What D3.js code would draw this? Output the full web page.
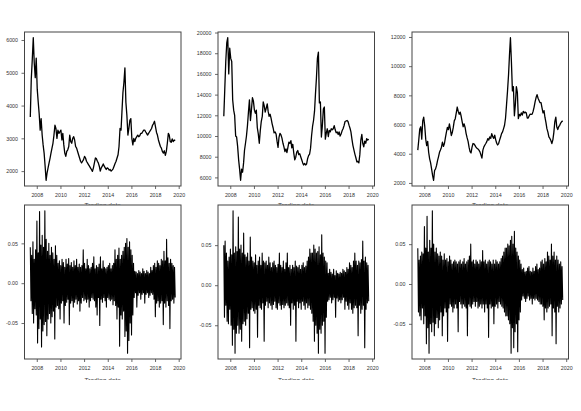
<!DOCTYPE html>
<html>
<head>
<meta charset="utf-8">
<script src="https://cdn.jsdelivr.net/npm/d3@7"></script>
<style>
  body { margin: 0; background: #fff; }
  svg { display: block; font-family: "Liberation Sans", Arial, sans-serif; }
</style>
</head>
<body>
<svg width="581" height="411"></svg>
<script>
// monthly closes, first month June 2007
const firstMonth = new Date(2007, 5, 15);

const price1 = [
  3650, 4800, 5400, 6070, 5300, 4850, 5450, 4500, 4100, 3750,
  3250, 3600, 3100, 2800, 2550, 2150, 1720, 1950, 2100, 2250,
  2400, 2550, 2700, 2850, 3100, 3400, 3300, 3000, 3250, 3150,
  3200, 3250, 2950, 3150, 2800, 2550, 2450, 2600, 2650, 2750,
  3100, 2900, 2850, 3000, 3050, 2950, 2750, 2700, 2600, 2500,
  2400, 2300, 2250, 2300, 2350, 2450, 2400, 2300, 2250, 2200,
  2150, 2100, 2050, 1990, 2100, 2250, 2400, 2380, 2300, 2250,
  2150, 2000, 2100, 2150, 2220, 2150, 2100, 2050, 2100, 2080,
  2030, 2050, 2000, 2030, 2070, 2150, 2230, 2300, 2400, 2500,
  2750, 3300, 3250, 3800, 4400, 4700, 5150, 4100, 3700, 3100,
  3300, 3550, 3600, 3000, 2800, 3000, 2900, 3000, 3050, 3100,
  3050, 3080, 3150, 3150, 3200, 3250, 3250, 3200, 3150, 3100,
  3150, 3200, 3250, 3300, 3400, 3450, 3520, 3350, 3180, 3100,
  2950, 2850, 2750, 2700, 2600, 2550, 2620, 2480, 2600, 2850,
  3150, 3100, 2900, 2880, 2980, 2900, 2950, 2930
];

const price2 = [
  11900, 14500, 17200, 19000, 19500, 16000, 18500, 17500, 17200, 13500,
  12500, 12000, 10000, 9900, 9000, 7700, 6800, 5720, 6800, 6500,
  7400, 8600, 9300, 10000, 11000, 12300, 13500, 11500, 12500, 13700,
  13400, 12500, 12200, 12500, 10800, 10200, 9300, 10500, 11400, 11900,
  13300, 12900, 12300, 12700, 13100, 12400, 11900, 12100, 11700, 11200,
  10800, 10300, 10400, 10200, 9500, 8900, 9900, 10250, 10100, 9800,
  9300, 8950, 8500, 8750, 8400, 8900, 9400, 9300, 9550, 8850,
  9200, 8350, 7700, 7950, 8450, 8600, 8200, 8300, 8000, 7700,
  7400, 7200, 7350, 7200, 7300, 7800, 8100, 8250, 8800, 10000,
  10900, 11500, 12400, 14000, 15600, 17500, 18100, 13200, 13300, 9900,
  11000, 12600, 12800, 9700, 10300, 10700, 9950, 10550, 10400, 10700,
  10600, 10700, 11000, 10600, 10300, 10400, 10150, 10400, 10000, 10200,
  10500, 10700, 11000, 11400, 11450, 11500, 11400, 11050, 10750, 10400,
  9700, 9100, 8650, 8250, 7900, 7500, 7550, 7400, 8200, 9600,
  10150, 9300, 8950, 9500, 9300, 9750, 9600, 9700
];

const price3 = [
  4250, 4940, 5700, 5850, 5000, 6250, 6500, 5900, 5000, 4550,
  4850, 4100, 3650, 3380, 2950, 2500, 2180, 2850, 2960, 3200,
  3550, 3790, 4100, 4250, 4450, 4800, 4500, 4700, 5100, 5480,
  5800, 5650, 6050, 5700, 5250, 5450, 5800, 6250, 6400, 6800,
  7200, 6900, 6700, 6850, 6550, 6200, 5850, 6050, 5800, 5400,
  5100, 4850, 4450, 4150, 4050, 4450, 4700, 4680, 4570, 4450,
  4380, 4330, 4250, 4130, 3920, 3700, 4250, 4470, 4600, 4700,
  4830, 5030, 4940, 5150, 5050, 5380, 5170, 5050, 5270, 4950,
  4720, 4600, 4700, 4930, 5150, 5380, 5500, 5720, 5950, 6450,
  7350, 8300, 9400, 10700, 11950, 10300, 8300, 8600, 6600, 7400,
  8600, 8200, 6400, 6700, 6600, 6800, 6650, 6900, 6800, 6850,
  6800, 6450, 6450, 6600, 6720, 6700, 6720, 6900, 7200, 7550,
  7850, 8050, 7800, 7650, 7500, 7500, 7150, 6800, 6950, 6500,
  6150, 5720, 5480, 5150, 5050, 4900, 4700, 4950, 5450, 6200,
  6500, 5850, 5650, 5850, 5950, 6100, 6200, 6250
];

// returns, evenly spaced over the same period
const ret1 = [
  0.045, -0.022, 0.035, -0.038, 0.052, -0.05, 0.03, -0.032, 0.042, -0.04,
  0.078, -0.075, 0.038, -0.057, 0.09, -0.045, 0.048, -0.08, 0.06, -0.06,
  0.045, -0.052, 0.091, -0.048, 0.055, -0.066, 0.04, -0.045, 0.05, -0.038,
  0.035, -0.05, 0.045, -0.042, 0.038, -0.035,
  0.03, -0.07, 0.047, -0.03, 0.035, -0.028, 0.025, -0.032, 0.028, -0.045,
  0.022, -0.025, 0.03, -0.022, 0.026, -0.05, 0.02, -0.028, 0.03, -0.024,
  0.024, -0.02, 0.031, -0.052, 0.022, -0.025, 0.026, -0.022, 0.02, -0.03,
  0.028, -0.024, 0.022, -0.02, 0.03, -0.026, 0.02, -0.022, 0.024, -0.035,
  0.02, -0.025, 0.022, -0.018, 0.042, -0.022, 0.025, -0.02, 0.018, -0.024,
  0.03, -0.02, 0.022, -0.03, 0.018, -0.022, 0.02, -0.018, 0.025, -0.02,
  0.033, -0.022, 0.018, -0.03, 0.022, -0.04, 0.02, -0.018, 0.024, -0.053,
  0.033, -0.02, 0.018, -0.024, 0.028, -0.018, 0.02, -0.022, 0.018, -0.03,
  0.02, -0.018, 0.022, -0.02, 0.025, -0.022, 0.018, -0.02, 0.022, -0.027,
  0.025, -0.022, 0.042, -0.028, 0.03, -0.045, 0.035, -0.03,
  0.044, -0.079, 0.03, -0.04, 0.035, -0.045, 0.04, -0.035, 0.045, -0.067,
  0.05, -0.06, 0.056, -0.088, 0.045, -0.072, 0.052, -0.05, 0.042, -0.065,
  0.035, -0.04, 0.025,
  -0.018, 0.015, -0.012, 0.014, -0.03, 0.012, -0.015, 0.016, -0.012, 0.014,
  -0.02, 0.012, -0.014, 0.018, -0.012, 0.015, -0.025, 0.012, -0.014, 0.016,
  -0.012, 0.014, -0.018, 0.012, -0.015, 0.02, -0.012, 0.016, -0.014, 0.022,
  -0.02, 0.025, -0.042, 0.02, -0.025, 0.028, -0.022, 0.025, -0.03, 0.022,
  -0.025, 0.03, -0.022, 0.028, -0.052, 0.04, -0.025, 0.028, -0.03, 0.055,
  -0.022, 0.032, -0.028, 0.025, -0.057, 0.03, -0.022, 0.025, -0.02, 0.022,
  -0.025, 0.02, -0.018
];

const ret2 = [
  0.05, -0.04, 0.055, -0.025, 0.04, -0.045, 0.03, -0.048, 0.035, -0.03,
  0.045, -0.05, 0.038, -0.075, 0.093, -0.055, 0.04, -0.085, 0.048, -0.06,
  0.042, -0.05, 0.085, -0.06, 0.045, -0.055, 0.05, -0.07, 0.04, -0.048,
  0.065, -0.045, 0.038, -0.05, 0.035, -0.042,
  0.04, -0.035, 0.03, -0.078, 0.06, -0.03, 0.035, -0.028, 0.03, -0.032,
  0.028, -0.035, 0.038, -0.03, 0.025, -0.065, 0.03, -0.025, 0.035, -0.028,
  0.025, -0.03, 0.04, -0.022, 0.03, -0.07, 0.028, -0.025, 0.03, -0.02,
  0.025, -0.028, 0.035, -0.022, 0.028, -0.025, 0.022, -0.03, 0.028, -0.024,
  0.03, -0.02, 0.025, -0.028, 0.022, -0.03, 0.026, -0.022, 0.04, -0.025,
  0.025, -0.03, 0.022, -0.024, 0.03, -0.028, 0.02, -0.025, 0.028, -0.022,
  0.04, -0.025, 0.022, -0.028, 0.025, -0.05, 0.02, -0.022, 0.025, -0.03,
  0.022, -0.025, 0.03, -0.07, 0.024, -0.02, 0.022, -0.028, 0.025, -0.022,
  0.02, -0.03, 0.025, -0.02, 0.028, -0.025, 0.022, -0.03, 0.024, -0.022,
  0.03, -0.028, 0.035, -0.025, 0.045, -0.03, 0.04, -0.035,
  0.04, -0.045, 0.05, -0.07, 0.045, -0.05, 0.04, -0.06, 0.042, -0.085,
  0.048, -0.055, 0.038, -0.06, 0.063, -0.05, 0.04, -0.045, 0.035, -0.085,
  0.03, -0.04, 0.028,
  -0.02, 0.015, -0.018, 0.02, -0.015, 0.016, -0.022, 0.014, -0.018, 0.02,
  -0.015, 0.012, -0.04, 0.018, -0.016, 0.015, -0.02, 0.014, -0.018, 0.016,
  -0.022, 0.015, -0.018, 0.02, -0.015, 0.018, -0.03, 0.016, -0.02, 0.022,
  -0.025, 0.02, -0.03, 0.028, -0.022, 0.025, -0.03, 0.022, -0.035, 0.03,
  -0.028, 0.04, -0.025, 0.03, -0.028, 0.025, -0.063, 0.03, -0.025, 0.028,
  -0.035, 0.032, -0.03, 0.055, -0.025, 0.03, -0.078, 0.035, -0.03, 0.028,
  -0.022, 0.025, -0.02
];

const ret3 = [
  0.045, -0.035, 0.03, -0.04, 0.035, -0.045, 0.04, -0.03, 0.038, -0.05,
  0.072, -0.04, 0.045, -0.075, 0.085, -0.055, 0.04, -0.087, 0.055, -0.05,
  0.045, -0.06, 0.092, -0.048, 0.05, -0.065, 0.04, -0.05, 0.045, -0.042,
  0.038, -0.055, 0.035, -0.045, 0.04, -0.035,
  0.035, -0.065, 0.03, -0.04, 0.038, -0.03, 0.03, -0.035, 0.032, -0.072,
  0.028, -0.03, 0.035, -0.025, 0.03, -0.028, 0.025, -0.035, 0.028, -0.03,
  0.03, -0.025, 0.028, -0.03, 0.025, -0.06, 0.028, -0.022, 0.03, -0.025,
  0.025, -0.03, 0.028, -0.025, 0.032, -0.028, 0.025, -0.03, 0.028, -0.065,
  0.03, -0.025, 0.035, -0.028, 0.05, -0.03, 0.028, -0.025, 0.03, -0.022,
  0.025, -0.028, 0.03, -0.022, 0.028, -0.03, 0.025, -0.028, 0.03, -0.025,
  0.028, -0.03, 0.042, -0.025, 0.028, -0.035, 0.03, -0.025, 0.025, -0.03,
  0.028, -0.067, 0.03, -0.025, 0.028, -0.03, 0.025, -0.028, 0.03, -0.05,
  0.025, -0.028, 0.03, -0.025, 0.028, -0.03, 0.025, -0.022, 0.028, -0.025,
  0.032, -0.028, 0.035, -0.03, 0.04, -0.035, 0.045, -0.04,
  0.045, -0.04, 0.05, -0.045, 0.048, -0.05, 0.055, -0.087, 0.06, -0.055,
  0.05, -0.08, 0.066, -0.06, 0.045, -0.05, 0.04, -0.085, 0.035, -0.045,
  0.03, -0.035, 0.025,
  -0.02, 0.018, -0.015, 0.02, -0.018, 0.015, -0.022, 0.016, -0.018, 0.02,
  -0.015, 0.022, -0.02, 0.016, -0.018, 0.015, -0.025, 0.02, -0.018, 0.016,
  -0.02, 0.022, -0.018, 0.025, -0.02, 0.018, -0.022, 0.02, -0.025, 0.028,
  -0.025, 0.03, -0.028, 0.025, -0.045, 0.032, -0.03, 0.028, -0.035, 0.04,
  -0.03, 0.035, -0.028, 0.03, -0.025, 0.05, -0.065, 0.035, -0.03, 0.04,
  -0.035, 0.03, -0.075, 0.035, -0.028, 0.03, -0.035, 0.025, -0.03, 0.028,
  -0.025, 0.022, -0.02
];

const yearTicks = [2008, 2010, 2012, 2014, 2016, 2018, 2020];
const priceTicks1 = [2000, 3000, 4000, 5000, 6000];
const priceTicks2 = [6000, 8000, 10000, 12000, 14000, 16000, 18000, 20000];
const priceTicks3 = [2000, 4000, 6000, 8000, 10000, 12000];
const retTicks = [-0.05, 0, 0.05];
const xTitle = "Trading date";

const svg = d3.select("svg");
const W = 156.5, H = 154;
const cols = [24.5, 218, 412];
const rows = [32, 205];

const monthDates = price1.map((d, i) => d3.timeMonth.offset(firstMonth, i));
const t0 = monthDates[0], t1 = monthDates[monthDates.length - 1];

function spreadDates(n) {
  const s = d3.scaleLinear().domain([0, n - 1]).range([+t0, +t1]);
  return d3.range(n).map(i => new Date(s(i)));
}

// clip rects for the half hidden x titles
const defs = svg.append("defs");
defs.append("clipPath").attr("id", "clipTop")
  .append("rect").attr("x", 0).attr("y", 202.6).attr("width", 581).attr("height", 2.2);
defs.append("clipPath").attr("id", "clipBot")
  .append("rect").attr("x", 0).attr("y", 377.6).attr("width", 581).attr("height", 2.4);

function panel(col, row, values, dates, yTicks, fmt, lw, clipId, titleY) {
  const g = svg.append("g").attr("transform", `translate(${cols[col]},${rows[row]})`);

  // R style 4% padding on both axes
  const te = d3.extent(dates), ve = d3.extent(values);
  const tp = (te[1] - te[0]) * 0.04, vp = (ve[1] - ve[0]) * 0.04;
  const x = d3.scaleTime()
    .domain([new Date(+te[0] - tp), new Date(+te[1] + tp)])
    .range([0, W]);
  const y = d3.scaleLinear()
    .domain([ve[0] - vp, ve[1] + vp])
    .range([H, 0]);

  const line = d3.line()
    .x((d, i) => x(dates[i]))
    .y(d => y(d));

  g.append("path")
    .datum(values)
    .attr("fill", "none")
    .attr("stroke", "#000")
    .attr("stroke-width", lw)
    .attr("stroke-linejoin", "round")
    .attr("d", line);

  const xAxis = g.append("g")
    .attr("transform", `translate(0,${H})`)
    .call(d3.axisBottom(x)
      .tickValues(yearTicks.map(yr => new Date(yr, 0, 1)))
      .tickFormat(d3.timeFormat("%Y"))
      .tickSize(3).tickPadding(4.5));

  const yAxis = g.append("g")
    .call(d3.axisLeft(y)
      .tickValues(yTicks)
      .tickFormat(fmt)
      .tickSize(3).tickPadding(3.5));

  [xAxis, yAxis].forEach(a => {
    a.select(".domain").remove();
    a.selectAll(".tick line").attr("stroke", "#444").attr("stroke-width", 0.8);
    a.selectAll(".tick text")
      .attr("fill", "#333")
      .style("font-size", "5.3px")
      .style("font-family", "'Liberation Sans', Arial, sans-serif");
  });

  g.append("rect")
    .attr("x", 0).attr("y", 0)
    .attr("width", W).attr("height", H)
    .attr("fill", "none")
    .attr("stroke", "#444")
    .attr("stroke-width", 1);

  svg.append("text")
    .attr("clip-path", `url(#${clipId})`)
    .attr("x", cols[col] + W / 2)
    .attr("y", titleY)
    .attr("text-anchor", "middle")
    .attr("fill", "#444")
    .style("font-size", "6.5px")
    .text(xTitle);
}

const priceFmt = d3.format("d");
const retFmt = d => d3.format(".2f")(d).replace("\u2212", "-");

panel(0, 0, price1, monthDates, priceTicks1, priceFmt, 1.3, "clipTop", 207.8);
panel(1, 0, price2, monthDates, priceTicks2, priceFmt, 1.3, "clipTop", 207.8);
panel(2, 0, price3, monthDates, priceTicks3, priceFmt, 1.3, "clipTop", 207.8);

panel(0, 1, ret1, spreadDates(ret1.length), retTicks, retFmt, 1.1, "clipBot", 382.8);
panel(1, 1, ret2, spreadDates(ret2.length), retTicks, retFmt, 1.1, "clipBot", 382.8);
panel(2, 1, ret3, spreadDates(ret3.length), retTicks, retFmt, 1.1, "clipBot", 382.8);
</script>
</body>
</html>
